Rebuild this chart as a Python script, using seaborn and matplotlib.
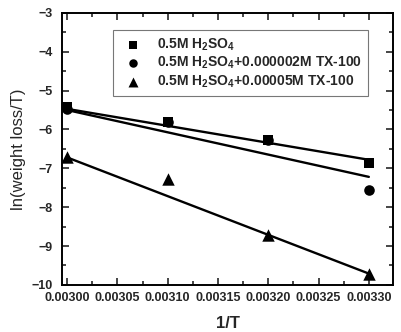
import numpy as np
import pandas as pd
import matplotlib
matplotlib.use("Agg")
import matplotlib.pyplot as plt
import seaborn as sns

# 1/T values and ln(weight loss/T) readings
inv_t = [0.00300, 0.00310, 0.00320, 0.00330]
ln_acid = [-5.42, -5.82, -6.26, -6.86]
ln_tx_low = [-5.47, -5.82, -6.26, -7.57]
ln_tx_high = [-6.70, -7.27, -8.72, -9.72]

# linear fit lines (end points)
fit_x = [0.00300, 0.00330]
fit_acid = [-5.47, -6.78]
fit_tx_low = [-5.50, -7.22]
fit_tx_high = [-6.72, -9.71]

labels = [
    r"0.5M H$_\mathbf{2}$SO$_\mathbf{4}$",
    r"0.5M H$_\mathbf{2}$SO$_\mathbf{4}$+0.000002M TX-100",
    r"0.5M H$_\mathbf{2}$SO$_\mathbf{4}$+0.00005M TX-100",
]

sns.set_style("ticks")
plt.rcParams["font.family"] = ["Liberation Sans", "DejaVu Sans"]
plt.rcParams["mathtext.fontset"] = "custom"
plt.rcParams["mathtext.rm"] = "Liberation Sans:bold"
plt.rcParams["mathtext.bf"] = "Liberation Sans:bold"

fig = plt.figure(figsize=(4.01, 3.32), dpi=100)
ax = fig.add_axes([0.155, 0.142, 0.825, 0.819])

for fy in (fit_acid, fit_tx_low, fit_tx_high):
    sns.lineplot(x=fit_x, y=fy, color="black", linewidth=1.7, ax=ax, zorder=2)

series = [
    (ln_acid, "s", 62, labels[0], 5),
    (ln_tx_low, "o", 58, labels[1], 4),
    (ln_tx_high, "^", 80, labels[2], 4),
]
for vals, mk, sz, lab, z in series:
    sns.scatterplot(x=inv_t, y=vals, marker=mk, s=sz, color="black",
                    edgecolor="black", linewidth=0, ax=ax, label=lab, zorder=z)

ax.set_xlim(0.002995, 0.003324)
ax.set_ylim(-10, -3)
ax.set_xticks(np.arange(0.00300, 0.003301, 0.00005))
ax.set_xticklabels(["%.5f" % v for v in ax.get_xticks()])
ax.set_xticks(np.arange(0.003025, 0.0033, 0.00005), minor=True)
ax.set_yticks(range(-10, -2))
ax.set_yticks(np.arange(-9.5, -3, 1.0), minor=True)

ax.tick_params(which="both", direction="in", top=True, right=True, width=1.2)
ax.tick_params(which="major", length=5, labelsize=9)
ax.tick_params(which="minor", length=3)
ax.tick_params(axis="x", which="major", pad=5)
ax.tick_params(axis="y", which="major", pad=7)
for lab in ax.get_xticklabels() + ax.get_yticklabels():
    lab.set_fontweight("bold")
for sp in ax.spines.values():
    sp.set_linewidth(1.4)
    sp.set_color("black")

ax.set_xlabel("1/T", fontsize=12, fontweight="bold", labelpad=9)
ax.set_ylabel("ln(weight loss/T)", fontsize=12, labelpad=4)

leg = ax.legend(loc="upper left", bbox_to_anchor=(0.154, 0.937), frameon=True,
                fancybox=False, edgecolor="#555555", fontsize=10,
                handletextpad=0.7, borderpad=0.45, labelspacing=0.15,
                markerscale=0.8, borderaxespad=0)
leg.get_frame().set_linewidth(0.8)
for t in leg.get_texts():
    t.set_fontweight("bold")

fig.savefig("out.png", dpi=100)
